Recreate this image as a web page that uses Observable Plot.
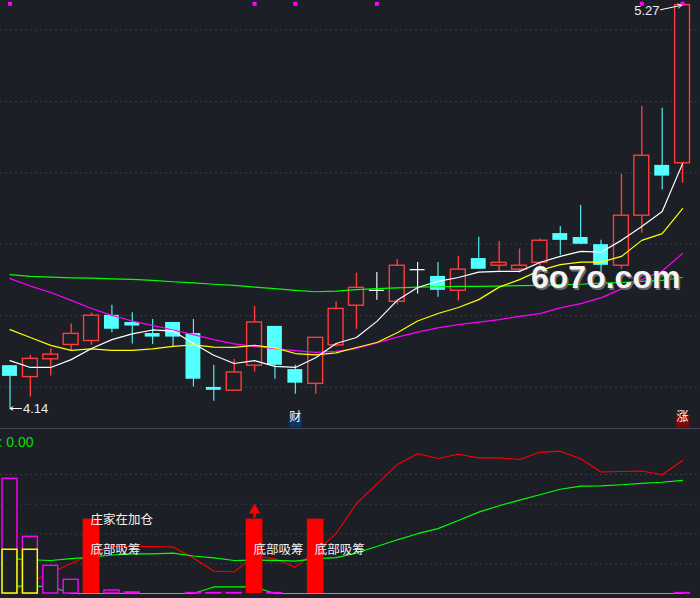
<!DOCTYPE html>
<html><head><meta charset="utf-8">
<script src="https://cdn.jsdelivr.net/npm/d3@7"></script>
<script src="https://cdn.jsdelivr.net/npm/@observablehq/plot@0.6"></script>
<style>
html,body{margin:0;padding:0;background:#1c1f26;overflow:hidden;}
#wrap{position:relative;width:700px;height:598px;background:#1c1f26;}
#main{position:absolute;left:0;top:0;}
#sub{position:absolute;left:0;top:430px;}
#divider{position:absolute;left:0;top:428px;width:700px;height:1px;background:#454b57;}
#wm{position:absolute;left:531px;top:261px;font:bold 32px "Liberation Sans",Arial,sans-serif;line-height:1;color:#f4f4f4;text-shadow:1.5px 1.5px 0 #6a6a6a;white-space:nowrap;}
</style></head>
<body><div id="wrap"><div id="main"></div><div id="divider"></div><div id="sub"></div><div id="wm">6o7o.com</div></div>
<script>
// ---- price candles (OHLC) ----
const open  = [4.260,4.228,4.278,4.318,4.329,4.401,4.381,4.350,4.381,4.350,4.199,4.190,4.260,4.370,4.249,4.209,4.317,4.428,4.471,4.439,4.529,4.510,4.470,4.560,4.540,4.529,4.548,4.630,4.619,4.599,4.540,4.680,4.821,4.827];
const high  = [4.260,4.289,4.307,4.377,4.407,4.429,4.408,4.389,4.381,4.389,4.261,4.277,4.426,4.370,4.261,4.338,4.438,4.519,4.521,4.557,4.549,4.549,4.566,4.620,4.608,4.587,4.615,4.650,4.709,4.611,4.796,4.986,4.981,5.270];
const low   = [4.140,4.172,4.231,4.301,4.317,4.352,4.321,4.319,4.312,4.200,4.160,4.190,4.242,4.222,4.180,4.180,4.312,4.362,4.443,4.430,4.461,4.452,4.441,4.530,4.521,4.519,4.535,4.569,4.600,4.521,4.530,4.631,4.752,4.771];
const close = [4.230,4.279,4.291,4.349,4.400,4.362,4.371,4.340,4.340,4.222,4.191,4.241,4.381,4.261,4.211,4.338,4.419,4.478,4.471,4.540,4.529,4.471,4.529,4.530,4.548,4.540,4.610,4.611,4.600,4.541,4.680,4.848,4.791,5.270];

// ---- moving averages ----
const ma5  = [4.274,4.255,4.255,4.277,4.308,4.333,4.349,4.360,4.357,4.322,4.289,4.266,4.274,4.258,4.255,4.282,4.322,4.339,4.384,4.443,4.479,4.496,4.507,4.522,4.524,4.524,4.549,4.566,4.580,4.578,4.611,4.650,4.692,4.826];
const ma10 = [4.361,4.339,4.317,4.303,4.307,4.303,4.303,4.307,4.314,4.318,4.312,4.311,4.317,4.310,4.294,4.290,4.296,4.311,4.325,4.352,4.385,4.406,4.423,4.445,4.480,4.501,4.527,4.543,4.550,4.550,4.566,4.611,4.630,4.700];
const ma20 = [4.504,4.483,4.465,4.443,4.420,4.401,4.385,4.373,4.360,4.347,4.333,4.321,4.314,4.308,4.302,4.297,4.300,4.308,4.324,4.340,4.354,4.366,4.375,4.382,4.389,4.398,4.406,4.422,4.434,4.450,4.475,4.501,4.525,4.574];
const ma60 = [4.515,4.510,4.508,4.506,4.505,4.503,4.502,4.499,4.495,4.492,4.488,4.485,4.480,4.476,4.471,4.467,4.469,4.473,4.476,4.478,4.480,4.481,4.482,4.482,4.483,4.484,4.485,4.487,4.488,4.491,4.493,4.496,4.499,4.507];

const gridPrices = [4.2,4.4,4.6,4.8,5.0,5.2];
const topMarkers = [0,12,14,18,31,33];
const tagBoxes = [{i:14,t:"财",bg:"#0e3468"},{i:33,t:"涨",bg:"#7a0a0a"}];

// ---- lower indicator panel ----
const redLine = [1.0,7.7,13.8,20.2,26.2,31.6,31.6,31.6,31.3,23.9,15.1,14.5,25.5,23.2,17.7,28.2,40.3,60.5,73.5,86.7,93.9,90.8,93.6,91.2,91.2,90.1,94.9,95.7,90.6,81.7,82.0,82.4,79.8,89.4];
const greenLine = [23.5,22.7,22.2,23.5,24.5,25.9,26.7,26.7,27.2,25.2,23.9,22.2,22.5,22.3,21.8,23.5,24.1,27.2,31.6,36.1,40.2,43.6,49.1,54.7,59.0,62.8,66.4,70.1,72.2,72.3,73.1,74.0,74.8,76.0];
const greenLow = [5.0,5.0,4.7,0,0,0,0,0,0,0,4.4,4.4,4.4,0,0,0,0,0,0,0,0,0,0,0,0,0,0,0,0,0,0,0,0,0];
const magentaBars = [{i:0,v:77.1},{i:1,v:38.1},{i:2,v:18.6},{i:3,v:9.2},{i:5,v:2.0},{i:6,v:0.7},{i:9,v:0.3},{i:10,v:0.3},{i:11,v:0.3},{i:13,v:0.3},{i:33,v:0.3}];
const yellowBars = [{i:0,v:29.4},{i:1,v:29.4}];
const redBars = [{i:4,v:50},{i:12,v:50},{i:15,v:50}];
const subLabels = [{i:4,v:49.5,t:"庄家在加仓"},{i:4,v:29.4,t:"底部吸筹"},{i:12,v:29.4,t:"底部吸筹"},{i:15,v:29.4,t:"底部吸筹"}];
const upArrowAt = [{i:12,v:50}];
const subGrid = [20,40,60,80];

// ---- build ----
const BG = "#1c1f26", RED = "#ff3c3c", CYAN = "#54ffff", GRID = "#393d48";
const N = open.length;
const candles = d3.range(N).map(i => ({i, o:open[i], h:high[i], l:low[i], c:close[i]}));
const up = candles.filter(d => d.c > d.o);
const down = candles.filter(d => d.c < d.o);
const flat = candles.filter(d => d.c === d.o);
const ser = arr => arr.map((v,i) => ({i, v}));
const HW = 0.365;
const xDom = [-0.466, 33.88];
const font = "'Liberation Sans', Arial, 'Noto Sans CJK SC', sans-serif";
const cjk = "'Noto Sans CJK SC', sans-serif";

const main = Plot.plot({
  width:700, height:430, margin:0,
  x:{domain:xDom, axis:null},
  y:{domain:[4.0784,5.2829], axis:null},
  style:{background:"transparent", overflow:"visible", fontFamily:font},
  marks:[
    Plot.ruleY(gridPrices, {stroke:GRID, strokeDasharray:"2,3"}),
    Plot.ruleX(up, {x:"i", y1:"l", y2:"h", stroke:RED, strokeWidth:1.4}),
    Plot.rect(up, {x1:d=>d.i-HW, x2:d=>d.i+HW, y1:"o", y2:"c", fill:BG, stroke:RED, strokeWidth:1.4}),
    Plot.ruleX(down, {x:"i", y1:"l", y2:"h", stroke:CYAN, strokeWidth:1.1}),
    Plot.rect(down, {x1:d=>d.i-HW, x2:d=>d.i+HW, y1:"c", y2:"o", fill:CYAN}),
    Plot.ruleX(flat, {x:"i", y1:"l", y2:"h", stroke:"#ffffff", strokeWidth:1.1}),
    Plot.ruleY(flat, {y:"o", x1:d=>d.i-HW, x2:d=>d.i+HW, stroke:"#ffffff", strokeWidth:1.3}),
    Plot.line(ser(ma60), {x:"i", y:"v", stroke:"#00ff00", strokeWidth:1.2}),
    Plot.line(ser(ma20), {x:"i", y:"v", stroke:"#ff00ff", strokeWidth:1.2}),
    Plot.line(ser(ma10), {x:"i", y:"v", stroke:"#ffff00", strokeWidth:1.2}),
    Plot.line(ser(ma5), {x:"i", y:"v", stroke:"#ffffff", strokeWidth:1.2}),
    Plot.dot(topMarkers, {x:d=>d, frameAnchor:"top", dy:3.3, symbol:"square", r:2.3, fill:"#ff00ff"}),
    // high label
    Plot.arrow([{i:N-1, v:high[N-1]}], {x1:d=>d.i-1.08, y1:d=>d.v-0.013, x2:"i", y2:"v", stroke:"#ffffff", strokeWidth:1, headLength:6, insetEnd:1}),
    Plot.text([{i:N-1, v:high[N-1]}], {x:"i", y:"v", text:d=>d.v.toFixed(2), textAnchor:"end", dx:-23, dy:6, fill:"#e6eef6", fontSize:13}),
    // low label
    Plot.arrow([{i:0, v:low[0]}], {x1:d=>d.i+0.56, y1:"v", x2:"i", y2:"v", stroke:"#ffffff", strokeWidth:1, headLength:5}),
    Plot.text([{i:0, v:low[0]}], {x:"i", y:"v", text:d=>d.v.toFixed(2), textAnchor:"start", dx:13, fill:"#e6eef6", fontSize:13}),
    // tag boxes
    Plot.dot(tagBoxes, {x:"i", frameAnchor:"bottom", dy:-9.5, symbol:"square", r:7.3, fill:d=>d.bg}),
    Plot.text(tagBoxes, {x:"i", frameAnchor:"bottom", dy:-9.5, text:"t", fill:"#ffffff", fontSize:12, fontFamily:cjk})
  ]
});
document.getElementById("main").appendChild(main);

const sub = Plot.plot({
  width:700, height:168, margin:0,
  x:{domain:xDom, axis:null},
  y:{domain:[-3.36,109.58], axis:null},
  style:{background:"transparent", overflow:"visible", fontFamily:font},
  marks:[
    Plot.ruleY(subGrid, {stroke:GRID, strokeDasharray:"2,3"}),
    Plot.line(ser(redLine), {x:"i", y:"v", stroke:"#ff0000", strokeWidth:1.1}),
    Plot.line(ser(greenLine), {x:"i", y:"v", stroke:"#00ff00", strokeWidth:1.2}),
    Plot.line(ser(greenLow), {x:"i", y:"v", stroke:"#00ff00", strokeWidth:1.2}),
    Plot.rect(magentaBars, {x1:d=>d.i-HW, x2:d=>d.i+HW, y1:d=>0, y2:"v", fill:BG, stroke:"#ff00ff", strokeWidth:1.4}),
    Plot.rect(yellowBars, {x1:d=>d.i-HW, x2:d=>d.i+HW, y1:d=>0, y2:"v", fill:BG, stroke:"#ffff00", strokeWidth:1.5}),
    Plot.rect(redBars, {x1:d=>d.i-0.41, x2:d=>d.i+0.41, y1:d=>0, y2:"v", fill:"#ff0000"}),
    Plot.ruleX(upArrowAt, {x:"i", y1:"v", y2:d=>d.v+4.5, stroke:"#ff0000", strokeWidth:2.5, dy:-1}),
    Plot.dot(upArrowAt, {x:"i", y:"v", dy:-9, symbol:"triangle", r:4.2, fill:"#ff0000"}),
    Plot.text(subLabels, {x:"i", y:"v", text:"t", textAnchor:"start", dx:-1, fill:"#f2f2f2", fontSize:12.5, fontFamily:cjk}),
    Plot.text([": 0.00"], {frameAnchor:"top-left", dx:-2, dy:7, text:d=>d, fill:"#00e000", fontSize:14})
  ]
});
document.getElementById("sub").appendChild(sub);
</script>
</body></html>
